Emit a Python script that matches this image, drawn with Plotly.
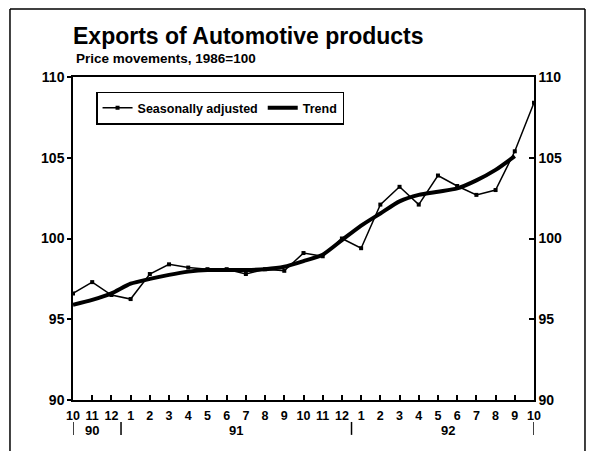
import plotly.graph_objects as go

# ---- data ----
months = ["10", "11", "12", "1", "2", "3", "4", "5", "6", "7", "8", "9",
          "10", "11", "12", "1", "2", "3", "4", "5", "6", "7", "8", "9", "10"]
month_year = ["90"] * 3 + ["91"] * 12 + ["92"] * 10
seasonally_adjusted = [96.6, 97.3, 96.5, 96.25, 97.8, 98.4, 98.2, 98.1, 98.1,
                       97.8, 98.1, 98.0, 99.1, 98.9, 100.0, 99.4, 102.1, 103.2,
                       102.1, 103.9, 103.25, 102.7, 103.0, 105.4, 108.4]
trend = [95.9, 96.2, 96.6, 97.2, 97.5, 97.75, 97.95, 98.05, 98.05, 98.05, 98.1,
         98.25, 98.6, 99.0, 99.9, 100.8, 101.55, 102.3, 102.7, 102.9, 103.1,
         103.6, 104.25, 105.1]
y_ticks = [90, 95, 100, 105, 110]

FONT = "Liberation Sans, Arial, sans-serif"
x_idx = list(range(len(months)))

fig = go.Figure()
fig.add_trace(go.Scatter(
    x=x_idx, y=seasonally_adjusted, name="Seasonally adjusted",
    mode="lines+markers", line=dict(color="black", width=1.5),
    marker=dict(symbol="square", size=4, color="black"),
))
fig.add_trace(go.Scatter(
    x=x_idx[:len(trend)], y=trend, name="Trend",
    mode="lines", line=dict(color="black", width=4, shape="spline", smoothing=0.6),
))
# empty trace to carry the right-hand axis
fig.add_trace(go.Scatter(x=[], y=[], yaxis="y2", showlegend=False, hoverinfo="skip"))

# year labels and separators under the month labels
years = []
for i, yr in enumerate(month_year):
    if not years or years[-1][0] != yr:
        years.append([yr, i, i])
    else:
        years[-1][2] = i
annotations = []
for yr, a, b in years:
    annotations.append(dict(x=(a + b) / 2, y=-0.093, xref="x", yref="paper",
                            xanchor="center", yanchor="middle",
                            text=yr, showarrow=False,
                            font=dict(family=FONT, size=13, color="black", weight="bold")))
seps = [0] + [b + 0.5 for _, a, b in years[:-1]] + [len(months) - 1]
shapes = [dict(type="line", xref="x", yref="paper", x0=s, x1=s, y0=-0.068, y1=-0.108,
               line=dict(color="black", width=1.5)) for s in seps]

# outer frame (top, left, right)
fx0, fx1, fy0, fy1 = -0.1367, 1.1106, -0.2, 1.2105
for (x0, y0, x1, y1) in [(fx0, fy1, fx1, fy1), (fx0, fy0, fx0, fy1), (fx1, fy0 + 0.03, fx1, fy1)]:
    shapes.append(dict(type="line", xref="paper", yref="paper", x0=x0, y0=y0, x1=x1, y1=y1,
                       line=dict(color="black", width=1.5)))

annotations.append(dict(x=-0.004, y=1.127, xref="paper", yref="paper", xanchor="left",
                        yanchor="middle", showarrow=False, text="Exports of Automotive products",
                        font=dict(family=FONT, size=23, color="black", weight="bold")))
annotations.append(dict(x=0.002, y=1.056, xref="paper", yref="paper", xanchor="left",
                        yanchor="middle", showarrow=False, text="Price movements, 1986=100",
                        font=dict(family=FONT, size=13.5, color="black", weight="bold")))

tick_font = dict(family=FONT, size=14, color="black", weight="bold")
fig.update_layout(
    width=591, height=451,
    margin=dict(l=73, r=57, t=77, b=51),
    paper_bgcolor="white", plot_bgcolor="white",
    showlegend=True,
    legend=dict(x=0.05, y=0.955, xanchor="left", yanchor="top", orientation="h",
                bordercolor="black", borderwidth=1.5, bgcolor="white",
                font=dict(family=FONT, size=12.5, color="black", weight="bold")),
    xaxis=dict(range=[0, len(months) - 1], tickmode="array", tickvals=x_idx, ticktext=months,
               ticks="inside", ticklen=5, tickwidth=1.5, tickcolor="black",
               showline=True, linecolor="black", linewidth=1.5, mirror=True,
               showgrid=False, zeroline=False, ticklabelstandoff=3,
               tickfont=dict(family=FONT, size=12.5, color="black", weight="bold")),
    yaxis=dict(range=[90, 110], tickmode="array", tickvals=y_ticks,
               ticks="outside", ticklen=4, tickwidth=1.5, tickcolor="black",
               showline=True, linecolor="black", linewidth=1.5,
               showgrid=False, zeroline=False, tickfont=tick_font),
    yaxis2=dict(range=[90, 110], tickmode="array", tickvals=y_ticks, overlaying="y",
                side="right", anchor="x",
                ticks="inside", ticklen=5, tickwidth=1.5, tickcolor="black",
                showline=True, linecolor="black", linewidth=1.5,
                showgrid=False, zeroline=False, tickfont=tick_font),
    annotations=annotations,
    shapes=shapes,
)

fig.write_html("out.html", config={"displayModeBar": False},
               post_script="document.body.style.margin='0';")
